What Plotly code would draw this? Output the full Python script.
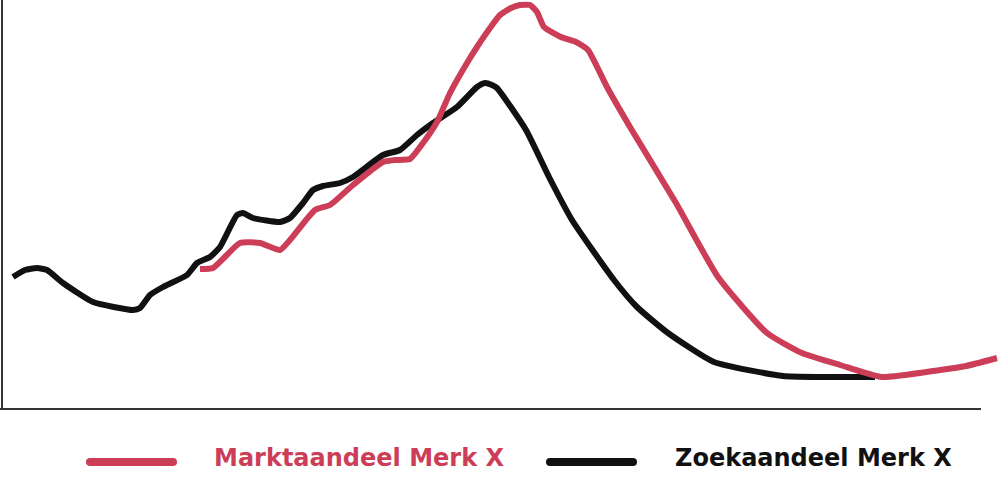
import plotly.graph_objects as go

# ---- data ----
# horizontal position (time scale 0-1000) and index value (0 = baseline)
x_market = [200, 213, 240, 260, 280, 290, 315, 330, 353, 383, 395, 410, 423, 437, 450,
            467, 477, 490, 500, 511, 520, 530, 537, 544, 561, 576, 588, 607, 630, 676,
            718, 767, 802, 840, 882, 940, 966, 997]
market_share = [140, 141, 166, 166, 159, 169, 199, 204, 224, 247, 249, 250, 266, 287, 316,
                346, 362, 381, 394, 401, 404, 404, 397, 382, 372, 367, 359, 322, 282, 206,
                132, 76, 56, 44, 32, 39, 43, 51]

x_search = [13, 25, 37, 47, 63, 93, 133, 140, 150, 163, 187, 197, 210, 220, 237, 243, 253,
            280, 290, 303, 313, 323, 340, 353, 383, 400, 417, 433, 457, 477, 485, 492, 497,
            526, 549, 572, 614, 637, 668, 714, 783, 821, 875]
search_share = [132, 139, 141, 139, 126, 107, 99, 101, 114, 122, 134, 146, 152, 162, 194,
                196, 191, 187, 191, 206, 219, 223, 226, 232, 254, 259, 274, 286, 302, 322,
                326, 324, 321, 279, 232, 189, 129, 102, 76, 47, 33, 32, 32]

series_names = ["Marktaandeel Merk X", "Zoekaandeel Merk X"]
RED = "#cc3e58"
BLACK = "#111111"

W, H = 1000, 477
PLOT_H = 409  # pixel height of plotting area


def px_x(p):
    return p / W


def px_y(p):
    return (PLOT_H - p) / PLOT_H


fig = go.Figure()
fig.add_trace(go.Scatter(x=x_search, y=search_share, mode="lines", name=series_names[1],
                         line=dict(color=BLACK, width=6, shape="spline", smoothing=0.5)))
fig.add_trace(go.Scatter(x=x_market, y=market_share, mode="lines", name=series_names[0],
                         line=dict(color=RED, width=6, shape="spline", smoothing=0.5)))

shapes = []
# axis lines
shapes.append(dict(type="line", xref="paper", yref="paper", x0=px_x(2), x1=px_x(2),
                   y0=px_y(409), y1=1, line=dict(color="#333333", width=2)))
shapes.append(dict(type="line", xref="paper", yref="paper", x0=0, x1=px_x(981),
                   y0=px_y(409), y1=px_y(409), line=dict(color="#333333", width=2)))

# legend samples with rounded ends
def sample(x0, x1, yc, color, t=8):
    r = t / 2
    out = [dict(type="line", xref="paper", yref="paper", x0=px_x(x0 + r), x1=px_x(x1 - r),
                y0=px_y(yc), y1=px_y(yc), line=dict(color=color, width=t))]
    for cx in (x0 + r, x1 - r):
        out.append(dict(type="circle", xref="paper", yref="paper",
                        x0=px_x(cx - r), x1=px_x(cx + r), y0=px_y(yc + r), y1=px_y(yc - r),
                        fillcolor=color, line=dict(width=0)))
    return out

shapes += sample(86, 177, 462, RED)
shapes += sample(546, 637, 462, BLACK)

annotations = [
    dict(text="<b>%s</b>" % series_names[0], xref="paper", yref="paper", x=px_x(212), y=px_y(458),
         xanchor="left", yanchor="middle", showarrow=False,
         font=dict(family="DejaVu Sans", size=24, color=RED)),
    dict(text="<b>%s</b>" % series_names[1], xref="paper", yref="paper", x=px_x(673), y=px_y(458),
         xanchor="left", yanchor="middle", showarrow=False,
         font=dict(family="DejaVu Sans", size=24, color=BLACK)),
]

fig.update_layout(
    width=W, height=H,
    margin=dict(l=0, r=0, t=0, b=H - PLOT_H, pad=0),
    paper_bgcolor="white", plot_bgcolor="white",
    showlegend=False,
    xaxis=dict(range=[0, 1000], visible=False, fixedrange=True),
    yaxis=dict(range=[0, 409], visible=False, fixedrange=True),
    shapes=shapes, annotations=annotations,
)

fig.write_html("out.html", config={"displayModeBar": False},
               post_script="document.body.style.margin='0px';document.body.style.overflow='hidden';")
